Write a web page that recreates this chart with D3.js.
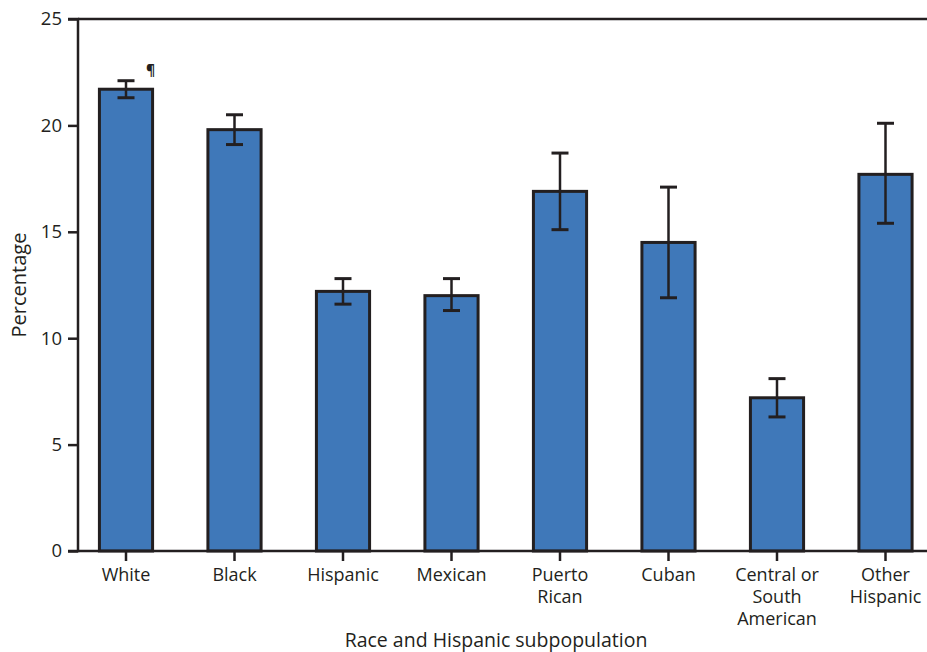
<!DOCTYPE html>
<html><head><meta charset="utf-8">
<script src="https://cdn.jsdelivr.net/npm/d3@7"></script>
<style>body{margin:0;background:#fff;} text{font-family:"Open Sans",sans-serif;fill:#231f20;}</style>
</head><body>
<svg id="c" width="927" height="652"></svg>
<script>
const categories = ["White","Black","Hispanic","Mexican","Puerto Rican","Cuban","Central or South American","Other Hispanic"];
const labelLines = [["White"],["Black"],["Hispanic"],["Mexican"],["Puerto","Rican"],["Cuban"],["Central or","South","American"],["Other","Hispanic"]];
const values = [21.7, 19.8, 12.2, 12.0, 16.9, 14.5, 7.2, 17.7];
const lower  = [21.3, 19.1, 11.6, 11.3, 15.1, 11.9, 6.3, 15.4];
const upper  = [22.1, 20.5, 12.8, 12.8, 18.7, 17.1, 8.1, 20.1];
const yTicks = [0,5,10,15,20,25];

const svg = d3.select("#c");
const x0 = 78, y0 = 551, yTop = 19;
const x = d3.scaleBand().domain(categories).range([71.75, 939.75]).paddingInner(0.51).paddingOuter(0.255);
const y = d3.scaleLinear().domain([0,25]).range([y0, yTop]);
const ink = "#231f20";

// top frame line
svg.append("line").attr("x1",x0).attr("x2",927).attr("y1",y(25)).attr("y2",y(25)).attr("stroke",ink).attr("stroke-width",2.5);

// bars
svg.selectAll("rect.bar").data(categories).enter().append("rect")
  .attr("x",d=>x(d)).attr("width",x.bandwidth())
  .attr("y",(d,i)=>y(values[i])).attr("height",(d,i)=>y0-y(values[i]))
  .attr("fill","#3f78b9").attr("stroke",ink).attr("stroke-width",3);

// error bars
const cap = 8.5;
const eb = svg.selectAll("g.eb").data(categories).enter().append("g")
  .attr("transform",d=>`translate(${x(d)+x.bandwidth()/2},0)`);
eb.append("line").attr("x1",0).attr("x2",0).attr("y1",(d,i)=>y(upper[i])).attr("y2",(d,i)=>y(lower[i])).attr("stroke",ink).attr("stroke-width",2.5);
eb.append("line").attr("x1",-cap).attr("x2",cap).attr("y1",(d,i)=>y(upper[i])).attr("y2",(d,i)=>y(upper[i])).attr("stroke",ink).attr("stroke-width",3);
eb.append("line").attr("x1",-cap).attr("x2",cap).attr("y1",(d,i)=>y(lower[i])).attr("y2",(d,i)=>y(lower[i])).attr("stroke",ink).attr("stroke-width",3);

// y axis
const ya = svg.append("g").attr("transform",`translate(${x0},0)`)
  .call(d3.axisLeft(y).tickValues(yTicks).tickSize(10).tickPadding(6));
ya.select(".domain").attr("stroke",ink).attr("stroke-width",2.5).attr("d",`M-10,${y(25)}H0V${y0}H-10`);
ya.selectAll(".tick line").attr("stroke",ink).attr("stroke-width",2.5);
ya.selectAll(".tick text").attr("font-size",18.5).attr("font-family","Open Sans").attr("fill",ink);

// x axis
const xa = svg.append("g").attr("transform",`translate(0,${y0})`)
  .call(d3.axisBottom(x).tickSize(10).tickFormat(""));
xa.select(".domain").attr("stroke",ink).attr("stroke-width",2.5).attr("d",`M${x0},0H927`);
xa.selectAll(".tick line").attr("stroke",ink).attr("stroke-width",2.5);
xa.selectAll(".tick").each(function(d,i){
  const t = d3.select(this).append("text").attr("text-anchor","middle").attr("font-size",18).attr("y",30).attr("fill",ink);
  labelLines[i].forEach((l,j)=>t.append("tspan").attr("x",0).attr("y",30+j*22).text(l));
});

// pilcrow
svg.append("text").attr("x",x("White")+x.bandwidth()/2+20).attr("y",y(upper[0])-6).attr("font-size",14).attr("font-weight","bold").attr("fill","#000").text("¶");

// axis titles
svg.append("text").attr("x",496).attr("y",647).attr("text-anchor","middle").attr("font-size",19.5).text("Race and Hispanic subpopulation");
svg.append("text").attr("transform",`translate(26,${285}) rotate(-90)`).attr("text-anchor","middle").attr("font-size",20).text("Percentage");
</script>
</body></html>
